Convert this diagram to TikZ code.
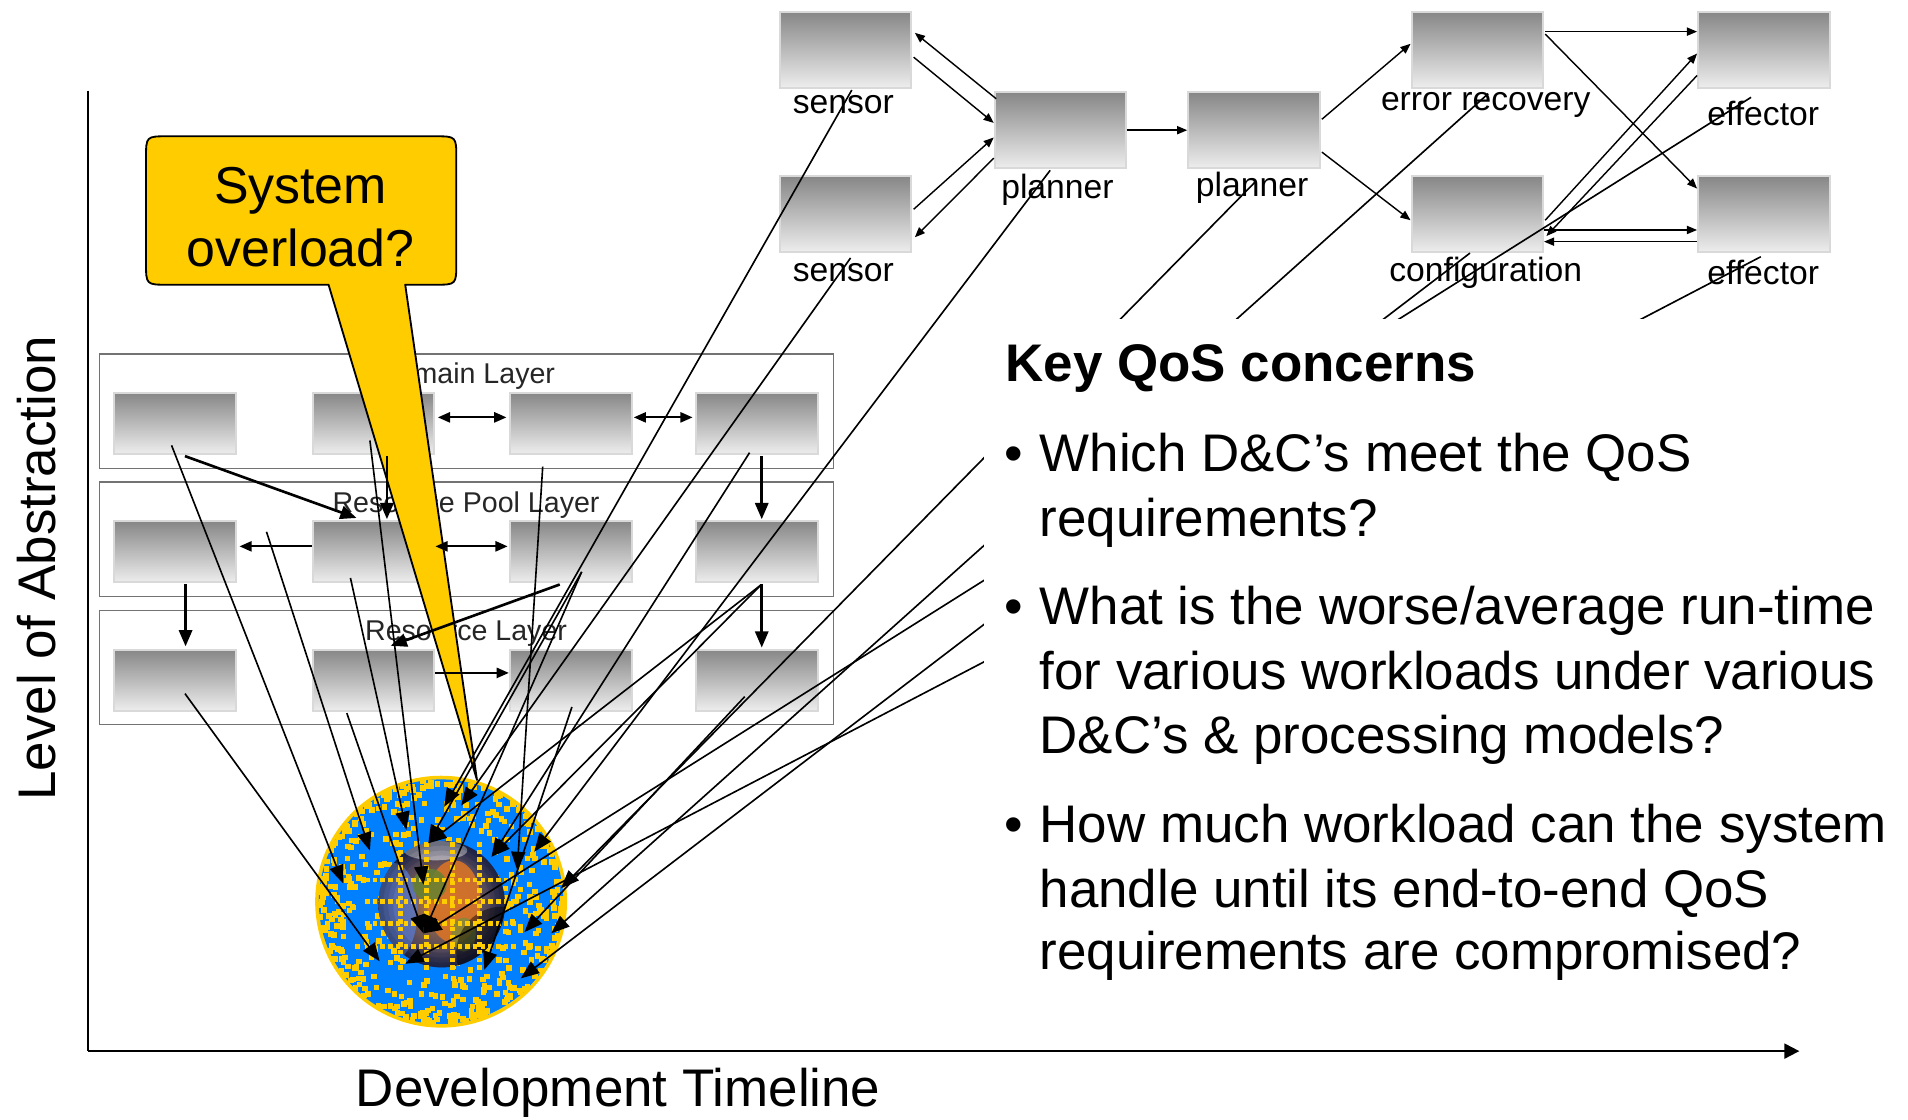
\documentclass[tikz,border=0pt]{standalone}
\usepackage{fontspec}
\setmainfont{Liberation Sans}
\usetikzlibrary{arrows.meta,calc}
\definecolor{callyel}{RGB}{255,204,0}
\definecolor{globeblue}{RGB}{0,128,255}
\definecolor{earthcore}{RGB}{200,130,60}
\definecolor{earthedge}{RGB}{40,50,100}
\definecolor{earthsea}{RGB}{90,120,200}
\definecolor{earthland}{RGB}{215,115,40}
\definecolor{earthgreen}{RGB}{100,130,50}
\definecolor{earthgreenb}{RGB}{120,140,60}
\begin{document}
\begin{tikzpicture}[x=0.6pt,y=-0.6pt,
  gbox/.style={rectangle, inner sep=0pt, draw=black!15, line width=1pt,
    top color=black!47, bottom color=black!7,
    minimum width=64.8pt, minimum height=37.2pt},
  lbox/.style={gbox, minimum width=60pt, minimum height=30pt},
  layer/.style={rectangle, inner sep=0pt, draw=black!55, line width=0.7pt,
    minimum width=361.8pt, minimum height=56.4pt},
  lbl/.style={inner sep=0pt, font=\fontsize{16.6pt}{19pt}\selectfont},
  ltitle/.style={inner sep=0pt, anchor=base, text=black!85,
    font=\fontsize{14.1pt}{16pt}\selectfont},
  big/.style={inner sep=0pt, anchor=base west,
    font=\fontsize{26.1pt}{31pt}\selectfont},
  tarr/.style={line width=0.7pt, -{Triangle[length=5pt,width=4pt]}},
  larr/.style={line width=1.3pt, -{Triangle[length=8pt,width=6.5pt]}},
  lsarr/.style={line width=1pt, -{Triangle[length=6pt,width=5pt]}},
  lbi/.style={line width=1pt, {Triangle[length=6pt,width=5pt]}-{Triangle[length=6pt,width=5pt]}},
  gline/.style={line width=0.8pt, -{Triangle[length=9pt,width=7pt]}},
  axis/.style={line width=1pt, -{Triangle[length=7.4pt,width=7.4pt]}},
  callout/.style={fill=callyel, draw=black, line width=0.9pt, line join=round}
]
\useasboundingbox (0,0) rectangle (1568,920);

% ---------- layered architecture panel ----------
\node[layer] (lay1) at (383.5,338) {};
\node[layer] (lay2) at (383.5,443) {};
\node[layer] (lay3) at (383.5,548.5) {};
\foreach \r/\yy in {1/348,2/453.5,3/559}
  \foreach \c/\xx in {1/144,2/307,3/469,4/622}
    \node[lbox] (b\r\c) at (\xx,\yy) {};
\node[ltitle] (t1) at (383,315) {Domain Layer};
\node[ltitle] (t2) at (383,421) {Resource Pool Layer};
\node[ltitle] (t3) at (383,526) {Resource Layer};

% ---------- globe ----------
\coordinate (globe) at (362.5,741);
\coordinate (earth) at (363,743);
\fill[callyel] (globe) circle (103.5);
\fill[globeblue] (globe) circle (100.5);
\pgfmathsetseed{11}
\foreach \k in {1,...,480}{
  \pgfmathsetmacro{\zz}{0.02+0.9*rnd}
  \pgfmathsetmacro{\ph}{360*rnd}
  \pgfmathsetmacro{\rr}{100*sqrt(1-\zz*\zz)}
  \fill[callyel] ($(globe)+(\ph:\rr)$) ++(-2.3,-2.3) rectangle ++(4.6,4.6);
}
\begin{scope}
  \clip (earth) circle (52);
  \shade[inner color=earthcore, outer color=earthedge] (earth) circle (52);
  \fill[earthsea, opacity=0.8] ($(earth)+(-40,6)$) ellipse (20 and 40);
  \fill[earthland, opacity=0.9] ($(earth)+(10,-2)$) ellipse (22 and 34);
  \fill[earthgreen, opacity=0.85] ($(earth)+(-10,-16)$) ellipse (14 and 13);
  \fill[earthgreenb, opacity=0.75] ($(earth)+(18,25)$) ellipse (10 and 14);
  \fill[white, opacity=0.5] ($(earth)+(-5,-44)$) ellipse (26 and 8);
  \foreach \rr in {48,44,40}
    \fill[black, opacity=0.1, even odd rule] (earth) circle (60) circle (\rr);
  \fill[black, opacity=0.45] ($(earth)+(50,40)$) circle (38);
\end{scope}
\begin{scope}
  \clip (globe) circle (98);
  \foreach \yy in {723,741,759,778}
    \draw[callyel, line width=2.2pt, dash pattern=on 2.2pt off 1.6pt] (300,\yy) -- (425,\yy);
  \foreach \xx in {329,350.5,372,394}
    \draw[callyel, line width=2.2pt, dash pattern=on 2.2pt off 1.6pt] (\xx,692) -- (\xx,797);
\end{scope}

% ---------- speech bubble ----------
\draw[callout] (138,112) -- (357,112) .. controls (375,112) .. (375,130)
  -- (375,216) .. controls (375,234) .. (357,234) -- (333,234) -- (392,641)
  -- (270,234) -- (138,234) .. controls (120,234) .. (120,216)
  -- (120,130) .. controls (120,112) .. (138,112) -- cycle;
\node[inner sep=0pt, anchor=base, font=\fontsize{25.6pt}{31pt}\selectfont] (sys1) at (247,167.3) {System};
\node[inner sep=0pt, anchor=base, font=\fontsize{25.6pt}{31pt}\selectfont] (sys2) at (247,219.3) {overload?};

% ---------- layer connectors ----------
\draw[lbi] ($(b12.east)+(2,-5)$) -- ($(b13.west)+(-2,-5)$);
\draw[lbi] ($(b13.east)+(1,-5)$) -- ($(b14.west)+(-2,-5)$);
\draw[larr] ($(b11.south)+(8,1)$) -- ($(b22.north)+(-14,-2)$);
\draw[larr] ($(b12.south)+(11,1)$) -- ($(b22.north)+(11,-1)$);
\draw[larr] ($(b14.south)+(4,1)$) -- ($(b24.north)+(4,-1)$);
\draw[lsarr] ($(b22.west)+(0,-4.5)$) -- ($(b21.east)+(2,-4.5)$);
\draw[lbi] ($(b22.east)+(0,-4.5)$) -- ($(b23.west)+(-1,-4.5)$);
\draw[larr] ($(b21.south)+(8.5,1)$) -- ($(b31.north)+(8.5,-2)$);
\draw[larr] ($(b23.south)+(-9,1)$) -- ($(b32.north)+(14,-2.5)$);
\draw[larr] ($(b24.south)+(4,1)$) -- ($(b34.north)+(4,-1)$);
\draw[lsarr] ($(b32.east)+(0,-6)$) -- ($(b33.west)+(0,-6)$);

% ---------- adaptation loop (top right) ----------
\node[gbox] (s1) at (695,41) {};
\node[gbox] (s2) at (695,176) {};
\node[gbox] (p1) at (871.5,107) {};
\node[gbox] (p2) at (1030.5,107) {};
\node[gbox] (er) at (1214,41) {};
\node[gbox] (cfg) at (1214,176) {};
\node[gbox] (e1) at (1449.5,41) {};
\node[gbox] (e2) at (1449.5,176) {};
\node[lbl] (ls1) at (693,86) {sensor};
\node[lbl] (ls2) at (693,224) {sensor};
\node[lbl] (lp1) at (869,156) {planner};
\node[lbl] (lp2) at (1029,154) {planner};
\node[lbl] (ler) at (1221,86) {error recovery};
\node[lbl] (lcf) at (1221,224) {configuration};
\node[lbl] (le1) at (1449,93) {effector};
\node[lbl] (le2) at (1449,224) {effector};

\draw[tarr] ($(p1.north west)+(2,6)$) -- ($(s1.east)+(2,-14)$);
\draw[tarr] ($(s1.east)+(1,6)$) -- ($(p1.west)+(0,-6)$);
\draw[tarr] ($(s2.east)+(1,-4)$) -- ($(p1.west)+(0,6)$);
\draw[tarr] ($(p1.west)+(0,23)$) -- ($(s2.east)+(2,19)$);
\draw[tarr] (p1.east) -- (p2.west);
\draw[tarr] ($(p2.east)+(1,-9)$) -- ($(er.west)+(0,-5)$);
\draw[tarr] ($(p2.east)+(1,18)$) -- ($(cfg.west)+(0,5)$);
\draw[tarr] ($(er.east)+(1,-15)$) -- ($(e1.west)+(0,-15)$);
\draw[tarr] ($(er.east)+(1,-13)$) -- ($(e2.west)+(0,-21)$);
\draw[tarr] ($(cfg.east)+(1,5)$) -- ($(e1.west)+(0,3)$);
\draw[tarr] ($(e1.west)+(0,21)$) -- ($(cfg.east)+(2,18)$);
\draw[tarr] ($(cfg.east)+(0,13)$) -- ($(e2.west)+(0,13)$);
\draw[tarr] ($(e2.west)+(0,22.6)$) -- ($(cfg.east)+(0,22.6)$);

% ---------- everything maps onto the running system ----------
\coordinate (gs1) at ($(ls1)+(7,-12)$);
\coordinate (gs2) at ($(ls2)+(6,-12)$);
\coordinate (gp1) at ($(lp1)+(-6,-16)$);
\coordinate (gp2) at ($(lp2)+(3,-5)$);
\coordinate (ger) at ($(ler)+(2,-9)$);
\coordinate (gcf) at ($(lcf)+(-13,-16)$);
\coordinate (ge1) at ($(le1)+(-10,-13)$);
\coordinate (ge2) at ($(le2)+(-2,-13)$);
\coordinate (g11) at ($(b11)+(-3,18)$);
\coordinate (g12) at ($(b12)+(-3,14)$);
\coordinate (g13) at ($(b13)+(-23,35.5)$);
\coordinate (g14) at ($(b14)+(-6,24)$);
\coordinate (g21) at ($(b21)+(75,-16.5)$);
\coordinate (g22) at ($(b22)+(-19,21.5)$);
\coordinate (g23) at ($(b23)+(9,16.5)$);
\coordinate (g24) at ($(b24)+(3,27.5)$);
\coordinate (g31) at ($(b31)+(8,11)$);
\coordinate (g32) at ($(b32)+(-22,27)$);
\coordinate (g33) at ($(b33)+(1,22)$);
\coordinate (g34) at ($(b34)+(-10,13.5)$);

\coordinate (ta) at ($(globe)+(2.5,-78)$);
\coordinate (tb) at ($(globe)+(16.5,-79)$);
\coordinate (tc) at ($(globe)+(-28.5,-59)$);
\coordinate (td) at ($(globe)+(-58.5,-42)$);
\coordinate (te) at ($(globe)+(-80.5,-15)$);
\coordinate (tf) at ($(globe)+(-10.5,-48)$);
\coordinate (tg) at ($(globe)+(-14.5,-14)$);
\coordinate (th) at ($(globe)+(41.5,-37)$);
\coordinate (ti) at ($(globe)+(62.5,-26)$);
\coordinate (tj) at ($(globe)+(76.5,-41)$);
\coordinate (tk) at ($(globe)+(98.5,-11)$);
\coordinate (tl) at ($(globe)+(-14.5,26)$);
\coordinate (tm) at ($(globe)+(-50.5,49)$);
\coordinate (tn) at ($(globe)+(-29.5,51)$);
\coordinate (to) at ($(globe)+(35.5,56)$);
\coordinate (tp) at ($(globe)+(68.5,25)$);
\coordinate (tq) at ($(globe)+(90.5,26)$);
\coordinate (tr) at ($(globe)+(65.5,63)$);

\foreach \s/\t in {gs1/ta, gs2/tb, gp1/tj, gp2/tk, ger/tq, gcf/tr, ge1/tl, ge2/tn,
    g11/te, g12/tg, g13/ti, g14/th, g21/td, g22/tc, g23/tf, g23/tl, g24/th, g24/tf,
    g31/tm, g32/tl, g33/to, g34/tp}
  \draw[gline] (\s) -- (\t);

% ---------- QoS questions ----------
\node[fill=white, inner sep=0pt, anchor=north west, minimum width=456pt,
  minimum height=333pt] (qbox) at (808,262) {};
\node[big, font=\fontsize{26.1pt}{31pt}\selectfont\bfseries] (qhead) at (826,313.5) {Key QoS concerns};
\node[big, anchor=base] (bul1) at (833,387.5) {•};
\node[big, anchor=base] (bul2) at (833,513.5) {•};
\node[big, anchor=base] (bul3) at (833,692.5) {•};
\foreach \yy/\tx [count=\n] in {387.5/{Which D\&C’s meet the QoS},
    440.5/{requirements?},
    513.5/{What is the worse/average run-time},
    566.5/{for various workloads under various},
    619.5/{D\&C’s \& processing models?},
    692.5/{How much workload can the system},
    745.5/{handle until its end-to-end QoS},
    796.5/{requirements are compromised?}}
  \node[big] (qline\n) at (854,\yy) {\tx};

% ---------- axes ----------
\coordinate (ytop) at (72.6,74.5);
\coordinate (origin) at (72.6,863.8);
\coordinate (xend) at (1478.7,863.8);
\draw[line width=1pt] (ytop) -- (origin);
\draw[axis] (origin) -- (xend);
\node[big, anchor=center, rotate=90] (ylab) at (30,467) {Level of Abstraction};
\node[big, anchor=center] (xlab) at (508,898) {Development Timeline};
\end{tikzpicture}
\end{document}
